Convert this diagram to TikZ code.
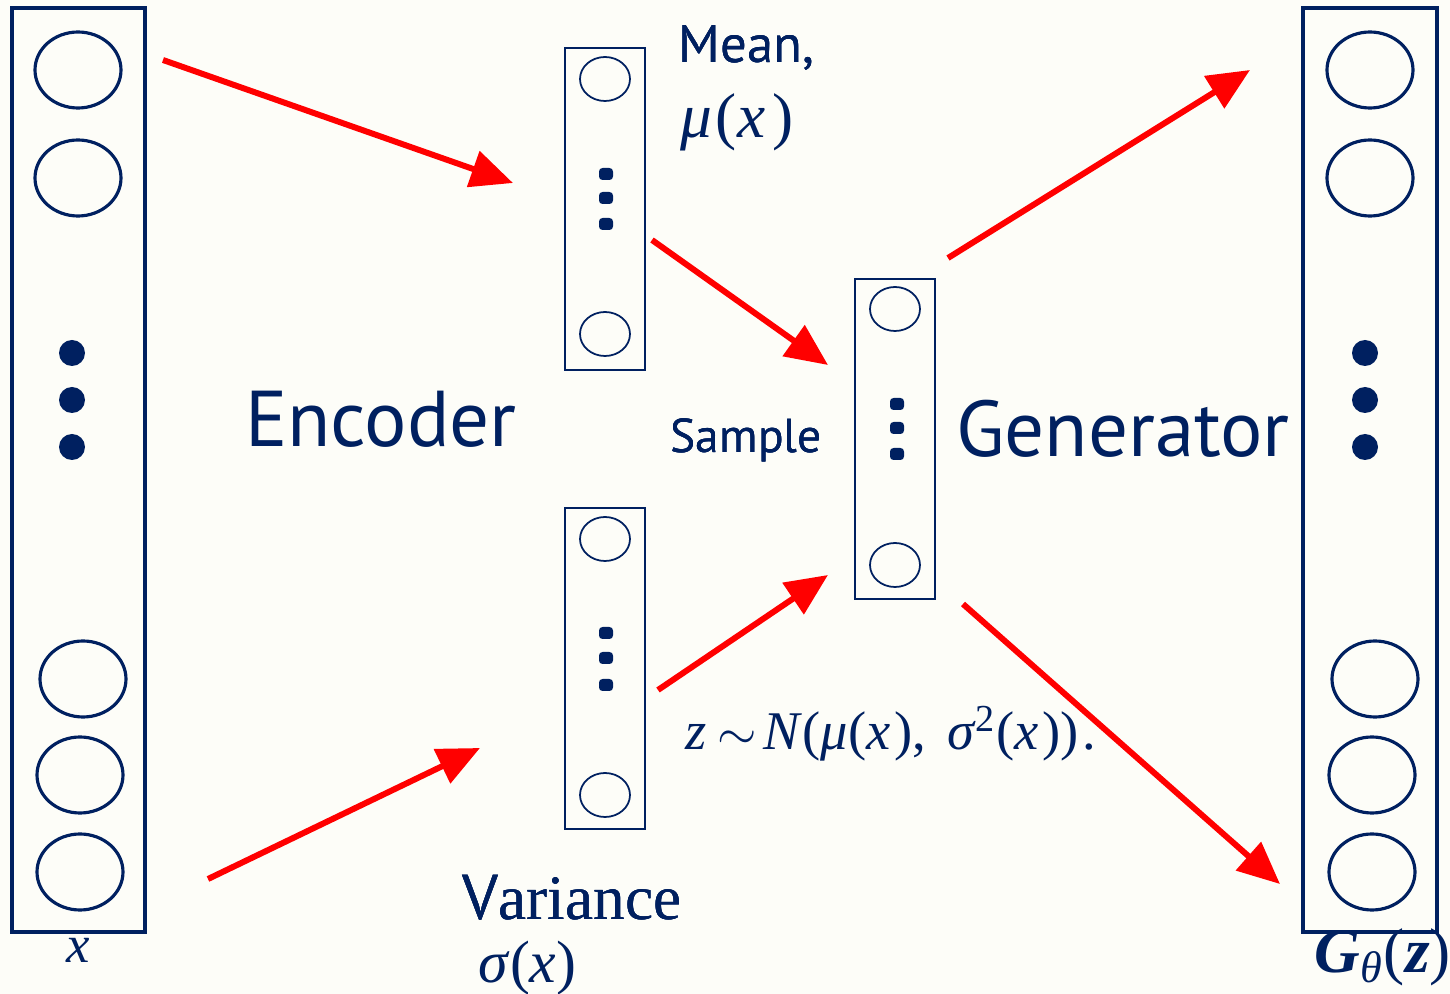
\documentclass[tikz,border=0pt]{standalone}
\usepackage{fontspec}
\setmainfont{Liberation Serif}
\newfontfamily\labelfont{PT Sans}
\usetikzlibrary{arrows.meta}
\definecolor{navyblue}{RGB}{0,32,96}
\definecolor{paper}{RGB}{253,253,248}
\definecolor{flowred}{RGB}{255,0,0}

\tikzset{
  layer/.style={draw=navyblue, line width=0.9pt},
  smalllayer/.style={draw=navyblue, line width=0.5pt},
  flow/.style={flowred, line width=1.7pt, -{Triangle[length=12pt, width=10.5pt]}},
  bigtext/.style={navyblue, inner sep=0pt, font=\labelfont\fontsize{22.5}{27}\selectfont},
  midtext/.style={navyblue, inner sep=0pt, font=\labelfont\fontsize{15}{18}\selectfont},
  mathtext/.style={navyblue, inner sep=0pt, font=\fontsize{17}{20}\selectfont}
}
% small square dot of the narrow layers
\newcommand{\layerdot}[2]{\fill[navyblue, rounded corners=1pt] (#1-7,#2-6) rectangle (#1+7,#2+6);}

\begin{document}
\begin{tikzpicture}[x=0.01cm, y=-0.01cm]
  \fill[paper] (0,0) rectangle (1450,994);
  \useasboundingbox (0,0) rectangle (1450,994);

  % Input layer x
  \draw[layer] (12,8) rectangle (145,932);
  \foreach \px/\py in {78/70, 78/178, 83/679, 80/775, 80/872}
    \draw[layer] (\px,\py) ellipse [x radius=43, y radius=38];
  \foreach \py in {353,400,447}
    \fill[navyblue] (72,\py) circle (13);
  \node[mathtext, anchor=base, font=\fontsize{15}{18}\selectfont] (xlabel) at (78,963) {\textit{x}};

  % Output layer G(z)
  \draw[layer] (1303,8) rectangle (1437,932);
  \foreach \px/\py in {1370/70, 1370/178, 1375/679, 1372/775, 1372/872}
    \draw[layer] (\px,\py) ellipse [x radius=43, y radius=38];
  \foreach \py in {353,400,447}
    \fill[navyblue] (1365,\py) circle (13);
  \node[mathtext, anchor=base west, font=\fontsize{18}{22}\selectfont] (glabel) at (1314,972)
    {\textbf{\textit{G}}\textsubscript{\textit{θ}}(\textbf{\textit{z}})};

  % Mean layer
  \draw[smalllayer] (565,48) rectangle (645,370);
  \draw[smalllayer] (605,79) ellipse [x radius=25, y radius=22];
  \draw[smalllayer] (605,334) ellipse [x radius=25, y radius=22];
  \foreach \py in {174,198,224}
    \layerdot{606}{\py}
  \node[midtext, anchor=base west] (meanlabel) at (678,63) {Mean,};
  \node[mathtext, anchor=base west, font=\fontsize{18}{21}\selectfont] (mulabel) at (680,138)
    {\textit{μ}\kern1pt(\textit{x}\kern2pt)};

  % Variance layer
  \draw[smalllayer] (565,508) rectangle (645,829);
  \draw[smalllayer] (605,539) ellipse [x radius=25, y radius=22];
  \draw[smalllayer] (605,795) ellipse [x radius=25, y radius=22];
  \foreach \py in {633,658,685}
    \layerdot{606}{\py}
  \node[mathtext, anchor=base west, font=\fontsize{18}{21}\selectfont] (varlabel) at (462,920)
    {{\labelfont V}ariance};
  \node[mathtext, anchor=base west] (sigmalabel) at (478,983) {\textit{σ}(\textit{x})};

  % Sampled layer z
  \draw[smalllayer] (855,279) rectangle (935,599);
  \draw[smalllayer] (895,309) ellipse [x radius=25, y radius=22];
  \draw[smalllayer] (895,565) ellipse [x radius=25, y radius=22];
  \foreach \py in {404,428,454}
    \layerdot{897}{\py}
  \node[midtext, anchor=base west, font=\labelfont\fontsize{13.5}{16}\selectfont] (samplelabel) at (670,453) {Sample};
  \node[mathtext, anchor=base west, font=\fontsize{15.5}{19}\selectfont] (zlabel) at (685,750)
    {\textit{z}\hspace{3pt}$\sim$\hspace{2pt}\textit{N}(\textit{μ}(\textit{x}\kern1pt),\hspace{6pt}\textit{σ}\textsuperscript{2}(\textit{x}\kern1pt))\kern1pt.};

  % Titles
  \node[bigtext, anchor=base] (encoder) at (381,447) {Encoder};
  \node[bigtext, anchor=base] (generator) at (1123,457) {Generator};

  % Arrow end points
  \coordinate (in-top) at (163,60);
  \coordinate (mu-in) at (513,183);
  \coordinate (in-bot) at (208,879);
  \coordinate (sigma-in) at (480,748);
  \coordinate (mu-out) at (652,240);
  \coordinate (z-top) at (828,365);
  \coordinate (sigma-out) at (658,690);
  \coordinate (z-bot) at (828,575);
  \coordinate (z-up) at (948,258);
  \coordinate (out-top) at (1250,70);
  \coordinate (z-down) at (963,604);
  \coordinate (out-bot) at (1280,884);

  % Red flow arrows
  \draw[flow] (in-top) -- (mu-in);
  \draw[flow] (in-bot) -- (sigma-in);
  \draw[flow] (mu-out) -- (z-top);
  \draw[flow] (sigma-out) -- (z-bot);
  \draw[flow] (z-up) -- (out-top);
  \draw[flow] (z-down) -- (out-bot);
\end{tikzpicture}
\end{document}
